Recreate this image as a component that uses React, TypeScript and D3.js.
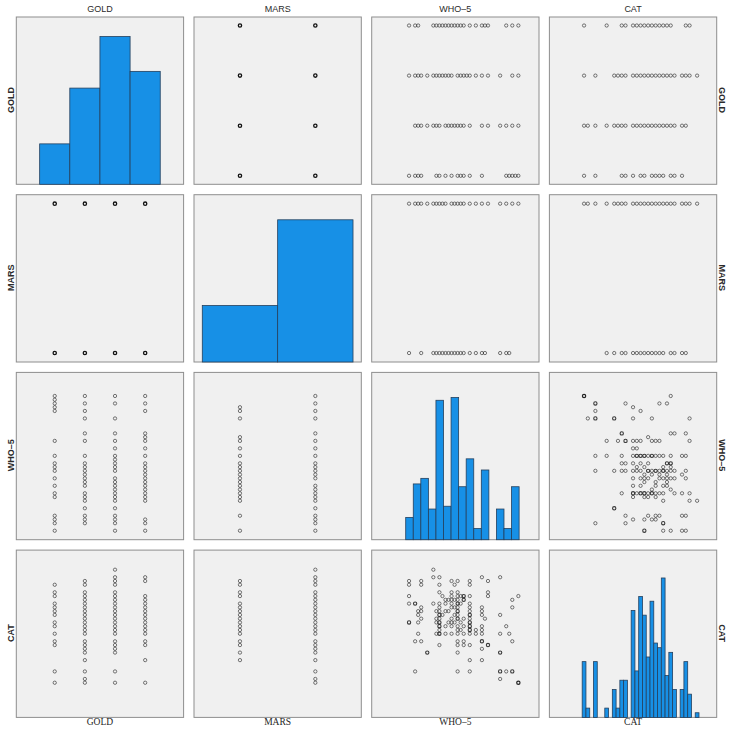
import { useMemo } from 'react';
import * as d3 from 'd3';

const variables = ['GOLD', 'MARS', 'WHO–5', 'CAT'];

// diagonal histograms
const goldLevels = [1, 2, 3, 4];
const goldCounts = [29, 69, 106, 81];
const marsLevels = [0, 1];
const marsCounts = [81, 204];
const who5BinStart = 6.45;
const who5BinWidth = 1.245;
const who5BinCounts = [8, 20, 22, 11, 50, 12, 51, 19, 29, 4, 25, 0, 11, 4, 19];
const catLevels = [7, 8, 9, 10, 11, 12, 13, 14, 15, 16, 17, 18, 19, 20, 21, 22, 23, 24, 25, 26, 27, 28, 29, 30, 31, 32, 33, 34, 35, 36, 37];
const catCounts = [12, 2, 0, 12, 0, 0, 2, 0, 6, 2, 8, 8, 0, 23, 10, 26, 22, 13, 25, 16, 15, 30, 9, 14, 6, 0, 6, 12, 5, 0, 1];

// GOLD x MARS: [gold, mars, n]
const goldMarsCounts = [
  [1, 0, 8], [1, 1, 21], [2, 0, 20], [2, 1, 49],
  [3, 0, 30], [3, 1, 76], [4, 0, 23], [4, 1, 58],
];

// WHO-5 scores seen at each GOLD level (1..4)
const who5ByGold = [
  [7, 8, 8.5, 9, 11.5, 12, 13, 14, 15, 15.5, 16, 17, 19, 23, 23.5, 24, 24.5, 25],
  [8, 8.5, 9, 10, 11, 11.5, 12, 13, 13.5, 14, 14.5, 15, 15.5, 16, 17, 19, 20, 22, 23, 24, 25],
  [7, 8, 8.5, 9, 10, 11, 11.5, 12, 12.5, 13, 13.5, 14, 15, 15.5, 16, 16.5, 17, 18, 19, 20, 22, 24, 25],
  [7, 8, 8.5, 11, 11.5, 12, 12.5, 13, 13.5, 14, 14.5, 15, 15.5, 16, 17, 18, 19, 19.5, 20, 23, 24, 25],
];

// CAT scores seen at each GOLD level (1..4)
const catByGold = [
  [7, 10, 17, 18, 20, 22, 23, 25, 26, 27, 28, 30, 31, 33],
  [7, 8, 10, 13, 15, 16, 17, 18, 20, 21, 22, 23, 24, 25, 26, 27, 28, 29, 30, 31, 33, 34],
  [7, 10, 15, 16, 17, 18, 20, 21, 22, 23, 24, 25, 26, 27, 28, 29, 30, 31, 33, 34, 35, 37],
  [7, 13, 17, 18, 20, 21, 22, 23, 24, 25, 26, 27, 28, 29, 30, 34, 35],
];

// WHO-5 and CAT scores for MARS = 0 / 1
const who5ByMars = [
  [7, 9, 11, 11.5, 12, 12.5, 13, 13.5, 14, 14.5, 15, 15.5, 16, 17, 18, 19, 19.5, 22, 23, 23.5],
  [7, 8, 8.5, 9, 10, 11, 11.5, 12, 12.5, 13, 14, 14.5, 15, 15.5, 16, 17, 18, 19, 20, 22, 23, 24, 25],
];
const catByMars = [
  [13, 15, 17, 18, 20, 21, 22, 23, 24, 25, 26, 27, 28, 30, 31, 33, 34],
  [7, 8, 10, 13, 15, 16, 17, 18, 20, 21, 22, 23, 24, 25, 26, 27, 28, 29, 30, 31, 33, 34, 35, 37],
];

// [WHO-5, CAT]
const who5CatPairs = [
  [25, 7], [25, 7], [25, 7], [25, 30],
  [24, 10], [24, 10], [24, 18], [24, 27], [24, 29],
  [23.5, 20], [23, 10], [23, 22],
  [22, 8], [22, 10], [22, 10], [22, 15], [22, 15], [22, 20], [22, 25], [22, 35],
  [20, 17], [20, 17], [20, 30], [20, 31], [20, 34],
  [19.5, 24],
  [19, 13], [19, 16], [19, 18], [19, 18], [19, 20], [19, 21], [19, 22], [19, 25], [19, 26], [19, 27], [19, 35],
  [18, 20], [18, 21],
  [17, 10], [17, 13], [17, 17], [17, 20], [17, 21], [17, 21], [17, 22], [17, 22], [17, 23], [17, 23],
  [17, 24], [17, 25], [17, 25], [17, 26], [17, 27], [17, 28], [17, 30], [17, 33], [17, 34],
  [16, 17], [16, 18], [16, 20], [16, 22], [16, 24], [16, 29], [16, 29], [16, 30], [16, 30],
  [15.5, 21], [15.5, 23], [15.5, 28], [15.5, 30],
  [15, 10], [15, 15], [15, 17], [15, 18], [15, 20], [15, 21], [15, 22], [15, 24], [15, 24], [15, 25],
  [15, 26], [15, 26], [15, 27], [15, 28], [15, 28], [15, 29], [15, 30], [15, 31], [15, 34],
  [14.5, 23], [14.5, 25], [14.5, 27], [14.5, 29], [14.5, 33],
  [14, 20], [14, 22], [14, 23], [14, 24], [14, 27], [14, 28], [14, 29], [14, 30], [14, 31], [14, 34],
  [13.5, 23], [13.5, 26], [13.5, 29],
  [13, 20], [13, 22], [13, 26], [13, 28], [13, 29],
  [12.5, 25], [12.5, 30],
  [12, 17], [12, 20], [12, 20], [12, 21], [12, 22], [12, 22], [12, 23], [12, 23], [12, 24], [12, 25],
  [12, 25], [12, 26], [12, 27], [12, 28], [12, 31], [12, 33], [12, 35],
  [11.5, 20], [11.5, 23], [11.5, 24], [11.5, 26],
  [11, 28], [11, 35], [11, 37],
  [10, 15], [10, 15],
  [9, 18], [9, 24], [9, 26], [9, 27], [9, 33], [9, 34],
  [8.5, 20], [8.5, 23], [8.5, 25], [8.5, 26],
  [8, 10], [8, 18], [8, 28], [8, 28],
  [7, 23], [7, 23], [7, 28], [7, 30], [7, 33], [7, 34],
];

// axis ranges per variable (x in its column, y in its row) and histogram count ceilings
const xDomains = [[-0.275, 5.275], [-0.61, 1.61], [0.85, 28.4], [-2.2, 42.2]];
const yDomains = [[0.83, 4.17], [-0.06, 1.06], [5.8, 28.15], [-2.2, 42.2]];
const countMax = [120, 240, 60, 36];

const LEFT = 16.3;
const TOP = 17;
const STEP = 177.7;
const SIZE = 167.3;

const BAR_FILL = '#1790e6';
const BAR_STROKE = '#24405e';
const SANS = '"Liberation Sans", Arial, sans-serif';
const SERIF = '"Liberation Serif", "Times New Roman", serif';

function histBins(v: number) {
  if (v === 0) return goldLevels.map((g, i) => ({ x0: g - 0.5, x1: g + 0.5, n: goldCounts[i] }));
  if (v === 1) return marsLevels.map((m, i) => ({ x0: m - 0.5, x1: m + 0.5, n: marsCounts[i] }));
  if (v === 2)
    return who5BinCounts.map((c, i) => ({
      x0: who5BinStart + i * who5BinWidth,
      x1: who5BinStart + (i + 1) * who5BinWidth,
      n: c,
    }));
  return catLevels.map((c, i) => ({ x0: c - 0.5, x1: c + 0.5, n: catCounts[i] }));
}

// pairs for variable a (lower index) against b, as [va, vb, n]
function pairPoints(a: number, b: number): number[][] {
  const out: number[][] = [];
  const spread = (lists: number[][], levels: number[]) =>
    lists.forEach((vals, i) => vals.forEach((v) => out.push([levels[i], v, 1])));
  if (a === 0 && b === 1) goldMarsCounts.forEach((p) => out.push(p));
  else if (a === 0 && b === 2) spread(who5ByGold, goldLevels);
  else if (a === 0 && b === 3) spread(catByGold, goldLevels);
  else if (a === 1 && b === 2) spread(who5ByMars, marsLevels);
  else if (a === 1 && b === 3) spread(catByMars, marsLevels);
  else who5CatPairs.forEach((p) => out.push([p[0], p[1], 1]));
  // stack repeated positions into one weighted marker
  const merged = d3.rollup(
    out,
    (g) => d3.sum(g, (d) => d[2]),
    (d) => `${d[0]}|${d[1]}`
  );
  return Array.from(merged, ([k, n]) => {
    const [u, v] = k.split('|').map(Number);
    return [u, v, n];
  });
}

export default function App() {
  const panels = useMemo(() => {
    const list: any[] = [];
    for (let r = 0; r < 4; r++) {
      for (let c = 0; c < 4; c++) {
        const x0 = LEFT + c * STEP;
        const y0 = TOP + r * STEP;
        const x = d3.scaleLinear().domain(xDomains[c]).range([x0, x0 + SIZE]);
        if (r === c) {
          const y = d3.scaleLinear().domain([0, countMax[c]]).range([y0 + SIZE, y0]);
          const bars = histBins(c)
            .filter((b) => b.n > 0)
            .map((b) => ({ x: x(b.x0), w: x(b.x1) - x(b.x0), y: y(b.n), h: y(0) - y(b.n) }));
          list.push({ r, c, x0, y0, bars, dots: [] });
        } else {
          const y = d3.scaleLinear().domain(yDomains[r]).range([y0 + SIZE, y0]);
          const pts = c < r ? pairPoints(c, r) : pairPoints(r, c).map((p) => [p[1], p[0], p[2]]);
          const dots = pts.map((p) => ({
            cx: x(p[0]),
            cy: y(p[1]),
            op: 1 - Math.pow(0.42, p[2]),
            sw: 0.95 + 0.12 * Math.min(p[2] - 1, 3),
          }));
          list.push({ r, c, x0, y0, bars: [], dots });
        }
      }
    }
    return list;
  }, []);

  const center = (i: number) => LEFT + i * STEP + SIZE / 2;

  return (
    <svg
      width={732}
      height={732}
      viewBox="0 0 732 732"
      style={{ position: 'absolute', left: 0, top: 0, background: '#ffffff' }}
    >
      {panels.map((p) => (
        <g key={`${p.r}-${p.c}`}>
          <rect x={p.x0} y={p.y0} width={SIZE} height={SIZE} fill="#f0f0f0" stroke="#8e8e8e" strokeWidth={1} />
          {p.bars.map((b: any, i: number) => (
            <rect key={i} x={b.x} y={b.y} width={b.w} height={b.h} fill={BAR_FILL} stroke={BAR_STROKE} strokeWidth={0.8} />
          ))}
          {p.dots.map((d: any, i: number) => (
            <circle key={i} cx={d.cx} cy={d.cy} r={1.65} fill="none" stroke="#111111" strokeOpacity={d.op} strokeWidth={d.sw} />
          ))}
        </g>
      ))}

      {variables.map((v, i) => (
        <g key={v}>
          <text x={center(i)} y={12} textAnchor="middle" fontFamily={SANS} fontSize={9} fill="#2b2b2b">
            {v}
          </text>
          <text x={center(i)} y={725} textAnchor="middle" fontFamily={SERIF} fontSize={9.5} fill="#1e1e1e">
            {v}
          </text>
          <text
            transform={`translate(14.2,${center(i)}) rotate(-90)`}
            textAnchor="middle"
            fontFamily={SANS}
            fontSize={9}
            fontWeight="bold"
            fill="#2b2b2b"
          >
            {v}
          </text>
          <text
            transform={`translate(719,${center(i)}) rotate(90)`}
            textAnchor="middle"
            fontFamily={SANS}
            fontSize={9}
            fontWeight="bold"
            fill="#2b2b2b"
          >
            {v}
          </text>
        </g>
      ))}
    </svg>
  );
}
